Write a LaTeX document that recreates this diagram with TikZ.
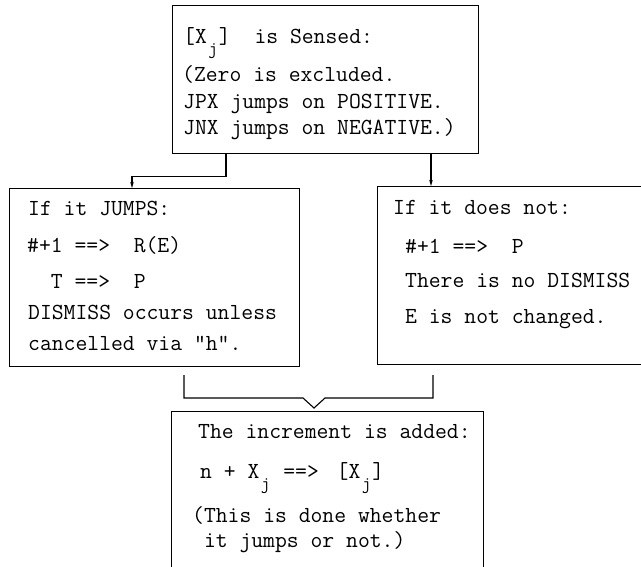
\documentclass[tikz,border=0pt]{standalone}
\usetikzlibrary{arrows.meta}
\newcommand\subj{\makebox[12.075pt][c]{\raisebox{-11pt}{\fontsize{18}{18}\selectfont j}}}
\begin{document}
\begin{tikzpicture}[x=1pt,y=-1pt,
  box/.style={draw, line width=1.1pt, rectangle, inner sep=0pt, anchor=north west},
  txt/.style={anchor=base west, inner sep=0pt, font=\fontsize{23}{23}\selectfont\ttfamily},
  link/.style={line width=1.1pt},
  arr/.style={link, -{Stealth[length=6pt,width=3.5pt]}}]
\useasboundingbox (0,0) rectangle (641,566);
% boxes
\node[box, minimum width=306pt, minimum height=148pt] (top) at (172,5) {};
\node[box, minimum width=290pt, minimum height=178pt] (left) at (9,188) {};
\node[box, minimum width=275pt, minimum height=178pt] (right) at (377,186) {};
\node[box, minimum width=312pt, minimum height=165pt] (bot) at (171,411) {};
% top texts
\node[txt] (t1) at (183,43) {[X\subj]~~is Sensed:};
\node[txt] (t2) at (182,81) {(Zero is excluded.};
\node[txt] (t3) at (183,108) {JPX jumps on POSITIVE.};
\node[txt] (t4) at (183,134) {JNX jumps on NEGATIVE.)};
% left texts
\node[txt] (l1) at (28,215) {If it JUMPS:};
\node[txt] (l2) at (27,252) {\#+1 ==>~~R(E)};
\node[txt] (l3) at (27,288) {~~T ==>~~P};
\node[txt] (l4) at (28,319) {DISMISS occurs unless};
\node[txt] (l5) at (28,350) {cancelled via "h".};
% right texts
\node[txt] (r1) at (393,214) {If it does not:};
\node[txt] (r2) at (405,253) {\#+1 ==>~~P};
\node[txt] (r3) at (405,287) {There is no DISMISS};
\node[txt] (r4) at (405,323) {E is not changed.};
% bottom texts
\node[txt] (b1) at (198,438) {The increment is added:};
\node[txt] (b2) at (200,478) {n + X\subj{} ==>~\hspace{6pt}[X\subj]};
\node[txt] (b3) at (192,522) {(This is done whether};
\node[txt] (b4) at (192,547) {~it jumps or not.)};
% connectors
\coordinate (ta) at ([xshift=54pt]top.south west);
\coordinate (la) at ([xshift=123pt]left.north west);
\coordinate (ra) at ([xshift=54pt]right.north west);
\draw[arr] (ta) -- ++(0,22) -| (la);
\draw[arr] (top.south -| ra) -- (ra);
\coordinate (bl) at ([xshift=175pt,yshift=-8pt]left.south west);
\coordinate (br) at ([xshift=56pt,yshift=-10pt]right.south west);
\coordinate (vtip) at ([xshift=143pt,yshift=3pt]bot.north west);
\draw[link] (bl) |- ([xshift=-11pt,yshift=10pt]vtip) -- (vtip) -- ([xshift=11pt,yshift=10pt]vtip) -| (br);
\end{tikzpicture}
\end{document}
